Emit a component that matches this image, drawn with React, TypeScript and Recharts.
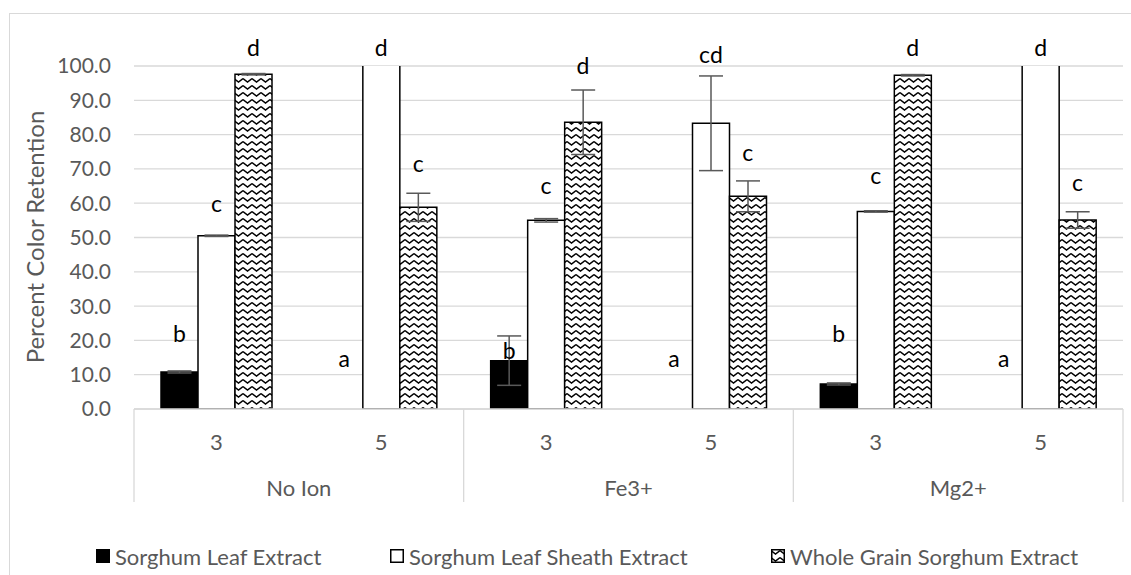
import React from "react"
import {
  BarChart,
  Bar,
  XAxis,
  YAxis,
  CartesianGrid,
  ErrorBar,
  ReferenceDot,
} from "recharts"

// treatment groups and pH levels (x axis)
const ions = ["No Ion", "Fe3+", "Mg2+"]
const phLevels = ["3", "5"]

// percent colour retention
const leafValues = [10.8, 0, 14.1, 0, 7.3, 0]
const leafErrors = [0.3, 0, 7.2, 0, 0.3, 0]
const sheathValues = [50.5, 125, 55.0, 83.3, 57.6, 125]
const sheathErrors = [0.2, 0, 0.5, 13.8, 0.2, 0]
const grainValues = [97.6, 58.8, 83.6, 62.0, 97.3, 55.1]
const grainErrors = [0.2, 4.1, 9.4, 4.5, 0.2, 2.4]

// significance letters and the height (in % units) they sit at
const leafLetters = ["b", "a", "b", "a", "b", "a"]
const leafLetterAt = [22.2, 14.9, 17.3, 14.9, 22.2, 14.9]
const sheathLetters = ["c", "d", "c", "cd", "c", "d"]
const sheathLetterAt = [60.0, 105.5, 65.3, 103.6, 68.2, 105.5]
const grainLetters = ["d", "c", "d", "c", "d", "c"]
const grainLetterAt = [105.5, 71.7, 100.2, 74.9, 105.5, 66.2]

const yTicks = [0, 10, 20, 30, 40, 50, 60, 70, 80, 90, 100]

const seriesNames = [
  "Sorghum Leaf Extract",
  "Sorghum Leaf Sheath Extract",
  "Whole Grain Sorghum Extract",
]

const data = ions.flatMap((ion, g) =>
  phLevels.map((ph, p) => {
    const i = g * phLevels.length + p
    return {
      key: `${ion}|${ph}`,
      ion,
      ph,
      leaf: leafValues[i],
      leafErr: leafErrors[i],
      sheath: sheathValues[i],
      sheathErr: sheathErrors[i],
      grain: grainValues[i],
      grainErr: grainErrors[i],
    }
  })
)

const letterSets = [
  { letters: leafLetters, at: leafLetterAt },
  { letters: sheathLetters, at: sheathLetterAt },
  { letters: grainLetters, at: grainLetterAt },
]

const W = 1131
const H = 575
const PLOT = { left: 134, right: 1123, top: 66, bottom: 409 }
const CAT_GAP = 27
const FONT = "Lato, 'Open Sans', sans-serif"
const GRAY = "#595959"
const GRID = "#d9d9d9"

const BAND = (PLOT.right - PLOT.left) / data.length
const BAR_W = (BAND - 2 * CAT_GAP) / 3

function GroupedTick(props: any) {
  const { x, payload } = props
  const index: number = payload.index
  const row = data[index]
  const last = index === data.length - 1
  return (
    <g>
      <text
        x={x}
        y={441}
        textAnchor="middle"
        dominantBaseline="central"
        fontSize={22}
        fontFamily={FONT}
        fill={GRAY}
      >
        {row.ph}
      </text>
      {index % 2 === 0 && (
        <line x1={x - BAND / 2} x2={x - BAND / 2} y1={PLOT.bottom} y2={502} stroke={GRID} strokeWidth={1.3} />
      )}
      {last && (
        <line x1={x + BAND / 2} x2={x + BAND / 2} y1={PLOT.bottom} y2={502} stroke={GRID} strokeWidth={1.3} />
      )}
      {index % 2 === 1 && (
        <text
          x={x - BAND / 2}
          y={487}
          textAnchor="middle"
          dominantBaseline="central"
          fontSize={22}
          fontFamily={FONT}
          fill={GRAY}
        >
          {row.ion}
        </text>
      )}
    </g>
  )
}

function LegendBox({ kind }: { kind: number }) {
  const fill = kind === 0 ? "#000" : kind === 1 ? "#fff" : "url(#zigzag)"
  return (
    <svg width={14} height={14} style={{ display: "block" }}>
      <rect x={0.75} y={0.75} width={12.5} height={12.5} fill={fill} stroke="#000" strokeWidth={1.5} />
    </svg>
  )
}

export default function App() {
  const legendLeft = [96, 390, 771]
  return (
    <div
      style={{
        position: "absolute",
        left: 0,
        top: 0,
        width: W,
        height: H,
        overflow: "hidden",
        background: "#fff",
        fontFamily: FONT,
      }}
    >
      <svg width={0} height={0} style={{ position: "absolute" }}>
        <defs>
          <pattern id="zigzag" width={9} height={7} patternUnits="userSpaceOnUse">
            <rect width={9} height={7} fill="#fff" />
            <path d="M0,1.5 L4.5,5 L9,1.5" fill="none" stroke="#000" strokeWidth={1.4} />
          </pattern>
        </defs>
      </svg>
      <div
        style={{
          position: "absolute",
          left: 9,
          top: 13,
          width: W + 20,
          height: H + 20,
          border: `1px solid ${GRID}`,
        }}
      />
      <div style={{ position: "absolute", left: 0, top: 0 }}>
        <BarChart
          width={W}
          height={H}
          data={data}
          margin={{ top: PLOT.top, right: W - PLOT.right, left: 0, bottom: H - PLOT.bottom - 100 }}
          barCategoryGap={CAT_GAP}
          barGap={0}
        >
          <CartesianGrid vertical={false} stroke={GRID} strokeWidth={1.3} />
          <XAxis
            dataKey="key"
            height={100}
            interval={0}
            tickLine={false}
            axisLine={{ stroke: GRID, strokeWidth: 1.3 }}
            tick={<GroupedTick />}
          />
          <YAxis
            width={PLOT.left}
            domain={[0, 100]}
            ticks={yTicks}
            allowDataOverflow
            axisLine={false}
            tickLine={false}
            tickMargin={17}
            tickFormatter={(v: number) => v.toFixed(1)}
            tick={{ fill: GRAY, fontSize: 21, fontFamily: FONT }}
            label={{
              content: () => (
                <text
                  x={34}
                  y={237}
                  transform="rotate(-90 34 237)"
                  textAnchor="middle"
                  dominantBaseline="central"
                  fontSize={24}
                  fontFamily={FONT}
                  fill={GRAY}
                >
                  Percent Color Retention
                </text>
              ),
            }}
          />
          <Bar dataKey="leaf" name={seriesNames[0]} fill="#000" stroke="#000" strokeWidth={1.5} isAnimationActive={false}>
            <ErrorBar dataKey="leafErr" width={12} stroke={GRAY} strokeWidth={1.5} />
          </Bar>
          <Bar dataKey="sheath" name={seriesNames[1]} fill="#fff" stroke="#000" strokeWidth={1.5} isAnimationActive={false}>
            <ErrorBar dataKey="sheathErr" width={12} stroke={GRAY} strokeWidth={1.5} />
          </Bar>
          <Bar dataKey="grain" name={seriesNames[2]} fill="url(#zigzag)" stroke="#000" strokeWidth={1.5} isAnimationActive={false}>
            <ErrorBar dataKey="grainErr" width={12} stroke={GRAY} strokeWidth={1.5} />
          </Bar>
          {letterSets.flatMap((set, s) =>
            data.map((row, i) => (
              <ReferenceDot
                key={`${s}-${i}`}
                x={row.key}
                y={set.at[i]}
                r={0}
                ifOverflow="visible"
                shape={(p: any) => (
                  <text
                    x={p.cx + (s - 1) * BAR_W}
                    y={p.cy}
                    textAnchor="middle"
                    dominantBaseline="central"
                    fontSize={23}
                    fontFamily={FONT}
                    fill="#000"
                  >
                    {set.letters[i]}
                  </text>
                )}
              />
            ))
          )}
        </BarChart>
      </div>
      {seriesNames.map((name, i) => (
        <div
          key={name}
          style={{
            position: "absolute",
            left: legendLeft[i],
            top: 544,
            height: 24,
            display: "flex",
            alignItems: "center",
            gap: 5,
            fontSize: 22,
            color: GRAY,
            whiteSpace: "nowrap",
          }}
        >
          <LegendBox kind={i} />
          <span>{name}</span>
        </div>
      ))}
    </div>
  )
}
